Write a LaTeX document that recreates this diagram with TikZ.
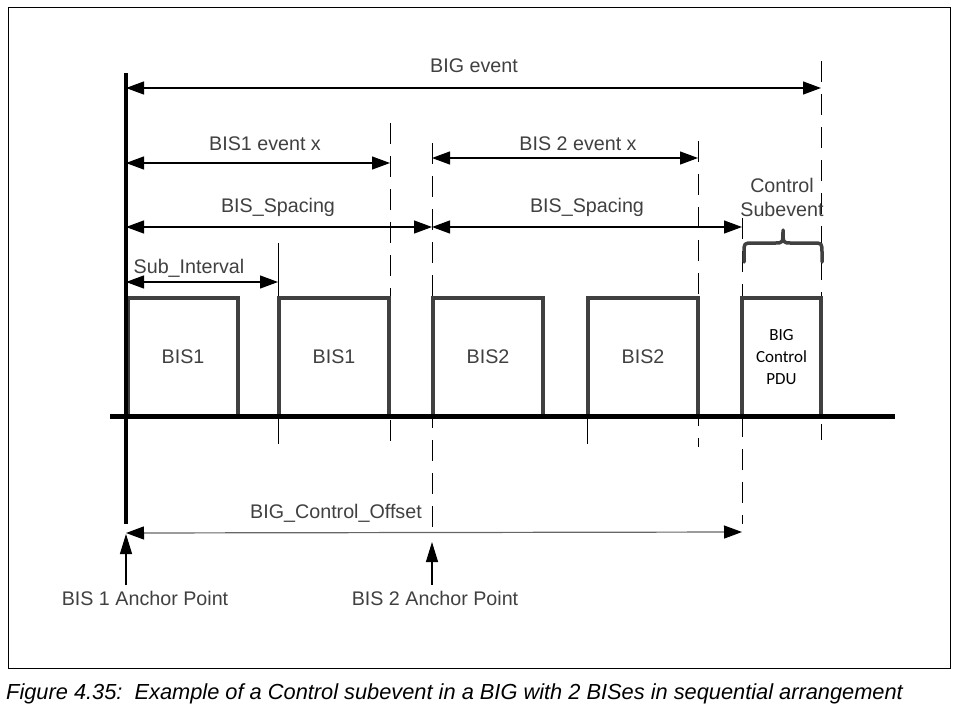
\documentclass[tikz,border=0pt]{standalone}
\usepackage{fontspec}
\setmainfont{Liberation Sans}
\newfontfamily\pdufont{Carlito}
\usetikzlibrary{arrows.meta}

\begin{document}
\begin{tikzpicture}[x=1pt, y=-1pt,
  txt/.style={text=black!75, font=\fontsize{19.7}{22}\selectfont, inner sep=0pt},
  dim/.style={line width=1.2pt, {Triangle[length=18pt,width=13pt,color=black]}-{Triangle[length=18pt,width=13pt,color=black]}},
  ptr/.style={line width=1.2pt, -{Triangle[length=20pt,width=12pt]}},
  tmark/.style={line width=1pt, dash pattern=on 21pt off 12pt},
  bisbox/.style={draw=black!75, line width=4pt, minimum width=110pt, minimum height=118pt, txt}]
\useasboundingbox (0,0) rectangle (956,716);
\draw[line width=1pt] (8,7) rectangle (950,668);
% time marks
\coordinate (t0) at (126,0);
\coordinate (t1) at (278,0);
\coordinate (t2) at (390,0);
\coordinate (t3) at (432,0);
\coordinate (t4) at (587,0);
\coordinate (t5) at (698,0);
\coordinate (t6) at (742,0);
\coordinate (t7) at (821,0);
% dashed marks
\draw[line width=1pt] (t1 |- 0,243) -- (t1 |- 0,444);
\draw[tmark] (t2 |- 0,123) -- (t2 |- 0,445);
\draw[tmark] (t3 |- 0,143) -- (t3 |- 0,530);
\draw[line width=1pt] (t4 |- 0,416) -- (t4 |- 0,444);
\draw[tmark] (t5 |- 0,141) -- (t5 |- 0,447);
\draw[tmark] (t6 |- 0,218) -- (t6 |- 0,524);
\draw[tmark] (t7 |- 0,61) -- (t7 |- 0,440);
% boxes
\node[bisbox] (bis1a) at (183,357) {BIS1};
\node[bisbox] (bis1b) at (334,357) {BIS1};
\node[bisbox] (bis2a) at (488,357) {BIS2};
\node[bisbox] (bis2b) at (643,357) {BIS2};
\node[bisbox, minimum width=79pt, font=\pdufont\fontsize{17}{22}\selectfont, text=black, align=center] (pdu) at (781.5,357) {BIG\\Control\\PDU};
% time axis
\draw[line width=5pt] (110,416) coordinate (ax0) -- (895,416) coordinate (ax1);
\draw[line width=4pt] (t0 |- 0,73) -- (t0 |- 0,524);
% dimensions
\draw[dim] (t0 |- 0,88) -- (t7 |- 0,88);
\node[txt] (bigev) at (474,66) {BIG event};
\draw[dim] (t0 |- 0,163) -- (t2 |- 0,163);
\node[txt] (bis1ev) at (265,144) {BIS1 event x};
\draw[dim] (t3 |- 0,158) -- (t5 |- 0,158);
\node[txt] (bis2ev) at (578,144) {BIS 2 event x};
\draw[dim] (t0 |- 0,227) -- (t3 |- 0,227);
\node[txt] (sp1) at (278,207) {BIS\_Spacing};
\draw[dim] (t3 |- 0,227) -- (t6 |- 0,227);
\node[txt] (sp2) at (587,207) {BIS\_Spacing};
\draw[dim] (t0 |- 0,282) -- (t1 |- 0,282);
\node[txt] (subint) at (189,268) {Sub\_Interval};
\draw[dim, draw=black!60] (t0 |- 0,533) -- (t6 |- 0,532);
\node[txt] (offset) at (336,513) {BIG\_Control\_Offset};
% control subevent
\node[txt, align=center] (ctrl) at (782,197) {Control\\[2pt]Subevent};
\draw[line width=3.5pt, draw=black!75, line cap=round, line join=round]
  (744,262) -- (744,253) .. controls (744,243) .. (753,243) -- (775,243)
  .. controls (783,243) .. (783,230) .. controls (783,243) .. (791,243)
  -- (813,243) .. controls (822,243) .. (822,253) -- (822,262);
% anchor points
\node[txt] (anc1) at (145,598) {BIS 1 Anchor Point};
\node[txt] (anc2) at (435,598) {BIS 2 Anchor Point};
\draw[ptr] (t0 |- 0,585) -- (t0 |- 0,534);
\draw[ptr] (t3 |- 0,585) -- (t3 |- 0,542);
% caption
\node[anchor=west, inner sep=0pt, font=\itshape\fontsize{21.8}{24}\selectfont] (cap) at (6,694)
  {Figure 4.35:\ \ Example of a Control subevent in a BIG with 2 BISes in sequential arrangement};
\end{tikzpicture}
\end{document}
